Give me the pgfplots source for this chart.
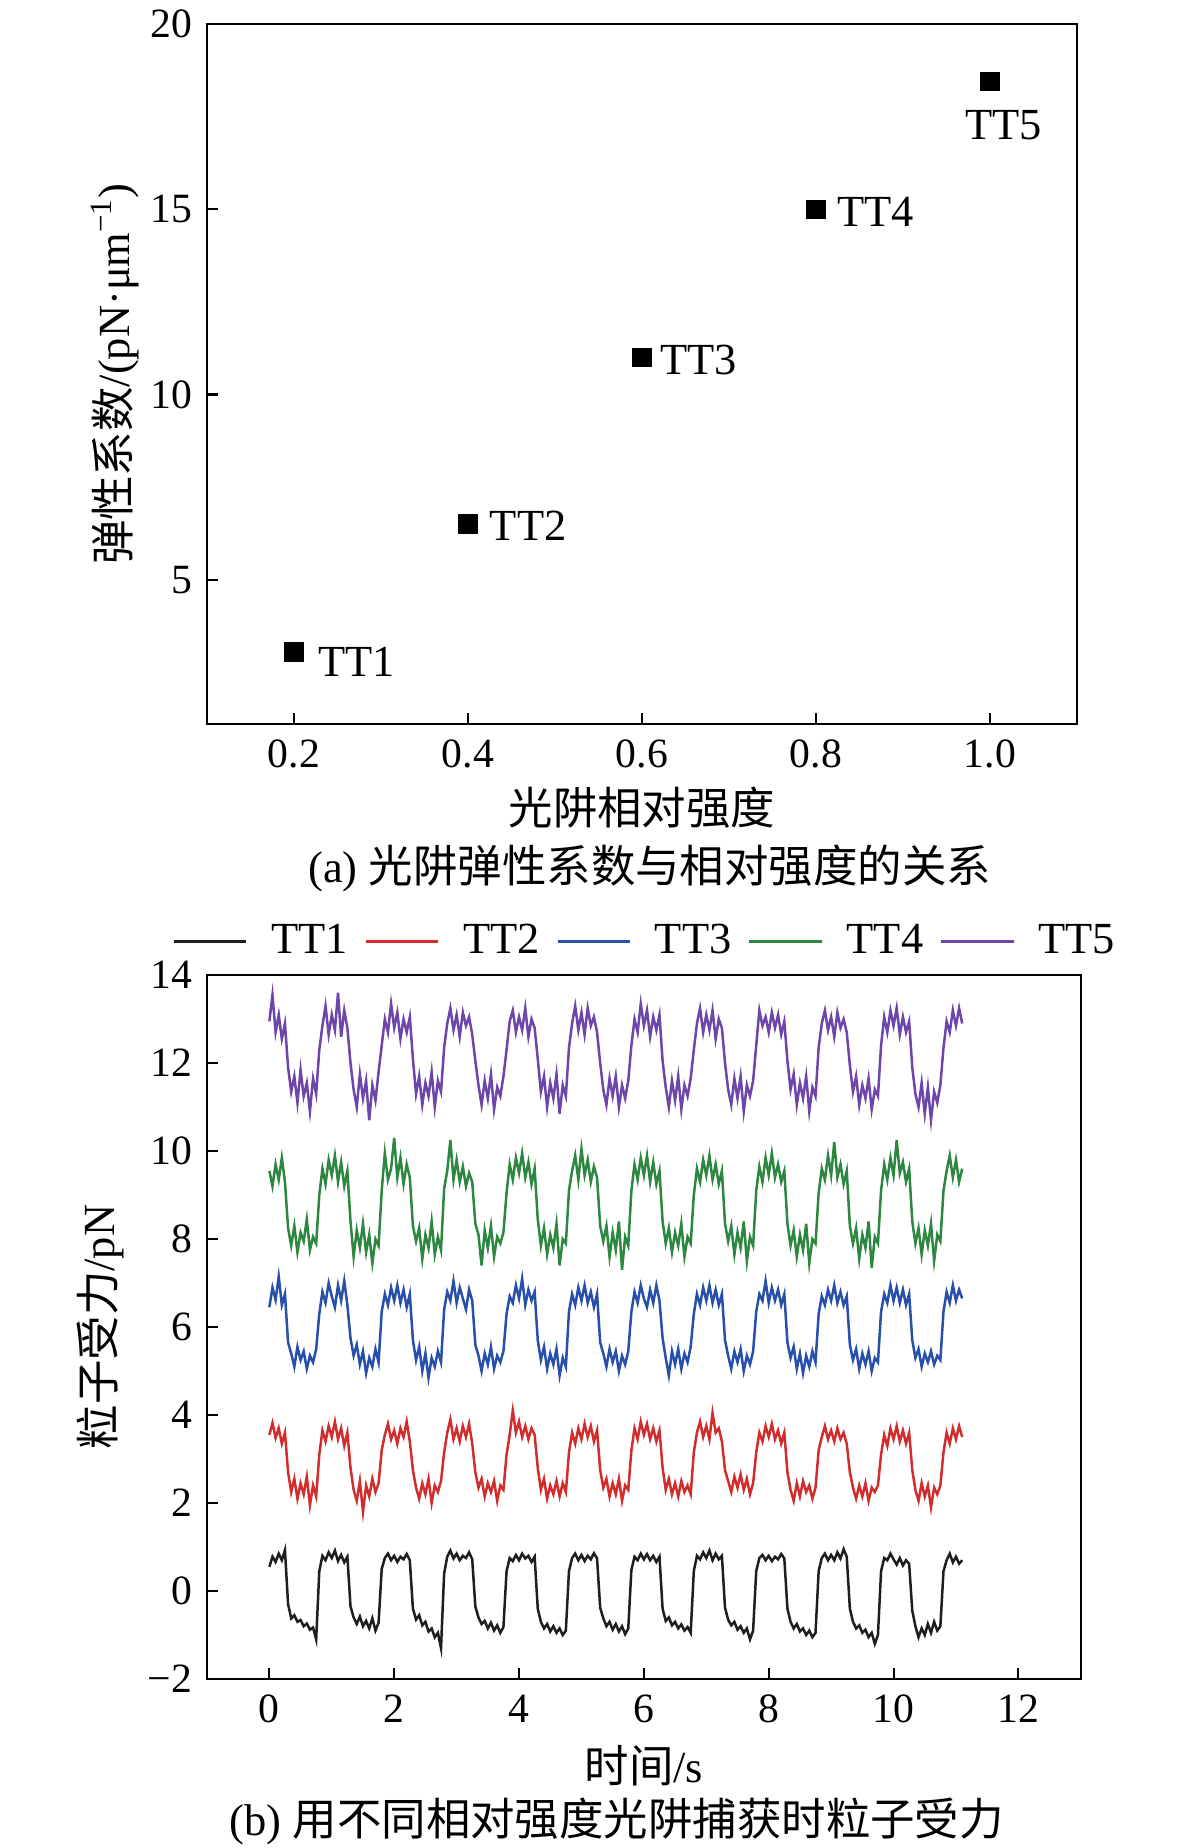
\documentclass[border=0pt]{standalone}
\usepackage{fontspec}
\setmainfont{Liberation Serif}
\newfontfamily\cjk{Noto Sans CJK SC}
\usepackage{pgfplots}
\pgfplotsset{compat=1.18}
\usepackage{pgfplotstable}

\definecolor{cA}{RGB}{30,30,30}
\definecolor{cB}{RGB}{210,45,45}
\definecolor{cC}{RGB}{40,80,170}
\definecolor{cD}{RGB}{45,135,65}
\definecolor{cE}{RGB}{110,70,170}

\pgfplotstableread{
x y1 y2 y3 y4 y5
0.00 0.55 3.55 6.45 9.55 12.95
0.05 0.78 3.82 6.90 9.20 13.55
0.10 0.66 3.48 6.62 9.70 12.70
0.15 0.85 3.70 7.15 9.35 13.10
0.20 0.70 3.35 6.50 9.85 12.55
0.25 0.93 3.60 6.75 9.30 12.90
0.30 -0.30 2.70 5.65 8.25 11.90
0.35 -0.62 2.25 5.40 7.85 11.35
0.40 -0.55 2.55 5.10 8.30 11.70
0.45 -0.70 2.10 5.55 7.70 11.10
0.50 -0.66 2.45 5.25 8.15 11.85
0.55 -0.80 2.20 5.45 7.95 11.25
0.60 -0.74 2.60 5.05 8.45 11.55
0.65 -0.88 1.95 5.35 7.75 10.90
0.70 -0.83 2.40 5.20 8.05 11.65
0.75 -1.10 2.15 5.50 7.90 11.30
0.80 0.45 3.10 6.30 9.00 12.30
0.85 0.80 3.65 6.80 9.60 12.85
0.90 0.70 3.40 6.55 9.25 13.30
0.95 0.88 3.75 7.00 9.80 12.65
1.00 0.75 3.50 6.70 9.45 13.10
1.05 0.92 3.85 6.45 9.90 12.75
1.10 0.68 3.45 6.95 9.30 13.60
1.15 0.82 3.70 6.60 9.75 12.60
1.20 0.65 3.30 7.05 9.20 13.20
1.25 0.78 3.60 6.50 9.55 12.80
1.30 -0.35 2.80 5.75 8.40 12.00
1.35 -0.60 2.30 5.35 7.60 11.40
1.40 -0.75 2.05 5.60 8.20 11.00
1.45 -0.58 2.50 5.15 7.80 11.75
1.50 -0.80 1.80 5.45 8.35 11.20
1.55 -0.68 2.40 4.95 7.70 11.60
1.60 -0.85 2.15 5.30 8.10 10.70
1.65 -0.62 2.55 5.10 7.45 11.50
1.70 -0.90 2.25 5.50 8.00 11.15
1.75 -0.72 2.45 5.20 7.85 11.80
1.80 0.50 3.20 6.35 9.10 12.40
1.85 0.75 3.55 6.75 9.95 13.00
1.90 0.85 3.80 6.50 9.35 12.70
1.95 0.70 3.45 6.90 9.60 13.35
2.00 0.80 3.65 6.60 10.30 12.80
2.05 0.66 3.35 6.95 9.40 13.15
2.10 0.78 3.70 6.55 9.85 12.55
2.15 0.72 3.50 6.85 9.25 13.00
2.20 0.84 3.85 6.45 9.70 12.70
2.25 0.70 3.40 6.75 9.40 13.05
2.30 -0.40 2.75 5.70 8.30 12.10
2.35 -0.65 2.35 5.25 7.95 11.30
2.40 -0.55 2.10 5.55 8.25 11.70
2.45 -0.78 2.45 5.00 7.55 11.05
2.50 -0.70 2.20 5.40 8.10 11.55
2.55 -0.92 2.55 4.85 7.80 11.25
2.60 -0.85 2.00 5.30 8.40 11.80
2.65 -1.05 2.40 5.10 7.65 11.00
2.70 -0.95 2.25 5.45 8.05 11.60
2.75 -1.30 2.50 5.20 7.75 11.35
2.80 0.40 3.15 6.40 9.15 12.35
2.85 0.78 3.60 6.80 9.55 12.90
2.90 0.92 3.90 6.60 10.25 13.25
2.95 0.74 3.45 7.05 9.35 12.75
3.00 0.85 3.70 6.55 9.80 13.10
3.05 0.70 3.40 6.90 9.30 12.60
3.10 0.80 3.75 6.65 9.65 13.15
3.15 0.75 3.50 6.40 9.20 12.85
3.20 0.88 3.80 6.85 9.50 13.05
3.25 0.72 3.35 6.60 9.30 12.65
3.30 -0.35 2.70 5.60 8.35 12.05
3.35 -0.60 2.35 5.35 8.10 11.50
3.40 -0.75 2.55 5.00 7.40 11.05
3.45 -0.68 2.15 5.40 8.20 11.60
3.50 -0.85 2.45 5.15 7.80 11.20
3.55 -0.72 2.25 5.55 8.30 11.75
3.60 -0.90 2.50 5.05 7.60 10.95
3.65 -0.78 2.05 5.35 8.05 11.45
3.70 -0.95 2.40 5.20 7.90 11.25
3.75 -0.82 2.30 5.45 8.15 11.70
3.80 0.45 3.10 6.30 9.05 12.30
3.85 0.75 3.55 6.70 9.70 12.95
3.90 0.68 4.10 6.55 9.35 13.20
3.95 0.82 3.60 6.95 9.85 12.70
4.00 0.70 3.85 6.65 9.50 13.05
4.05 0.85 3.50 7.10 9.95 12.75
4.10 0.74 3.75 6.50 9.40 13.25
4.15 0.80 3.45 6.85 9.75 12.60
4.20 0.66 3.70 6.60 9.25 13.00
4.25 0.78 3.55 6.80 9.60 12.80
4.30 -0.40 2.80 5.70 8.45 12.10
4.35 -0.70 2.30 5.25 7.85 11.35
4.40 -0.85 2.55 5.55 8.25 11.70
4.45 -0.75 2.10 5.05 7.65 11.00
4.50 -0.92 2.40 5.40 8.10 11.55
4.55 -0.80 2.20 5.15 7.80 11.20
4.60 -0.95 2.50 5.50 8.35 11.75
4.65 -0.85 2.15 4.90 7.40 10.85
4.70 -1.00 2.45 5.30 8.00 11.50
4.75 -0.90 2.25 5.10 7.90 11.25
4.80 0.45 3.15 6.35 9.10 12.35
4.85 0.75 3.60 6.75 9.55 12.90
4.90 0.85 3.35 6.50 9.90 13.30
4.95 0.70 3.70 6.90 9.35 12.75
5.00 0.82 3.45 6.60 10.05 13.15
5.05 0.68 3.80 6.95 9.45 12.65
5.10 0.80 3.50 6.55 9.80 13.25
5.15 0.72 3.75 6.80 9.30 12.85
5.20 0.86 3.40 6.45 9.65 13.05
5.25 0.74 3.65 6.75 9.40 12.70
5.30 -0.38 2.75 5.65 8.30 12.00
5.35 -0.62 2.35 5.40 7.95 11.40
5.40 -0.80 2.55 5.10 8.30 11.05
5.45 -0.70 2.15 5.50 7.60 11.65
5.50 -0.88 2.45 5.20 8.15 11.25
5.55 -0.75 2.20 5.45 7.75 11.70
5.60 -0.92 2.55 5.00 8.40 11.00
5.65 -0.80 2.05 5.35 7.30 11.50
5.70 -0.98 2.40 5.15 8.05 11.20
5.75 -0.85 2.30 5.45 7.85 11.60
5.80 0.48 3.20 6.35 9.10 12.40
5.85 0.78 3.70 6.80 9.70 13.00
5.90 0.70 3.45 6.55 9.35 12.70
5.95 0.85 3.85 6.95 9.85 13.35
6.00 0.72 3.55 6.65 9.45 12.85
6.05 0.84 3.80 6.45 9.90 13.20
6.10 0.70 3.45 6.85 9.30 12.60
6.15 0.80 3.70 6.55 9.75 13.05
6.20 0.66 3.40 6.95 9.25 12.75
6.25 0.78 3.65 6.60 9.55 13.10
6.30 -0.40 2.80 5.75 8.40 12.05
6.35 -0.68 2.30 5.30 7.90 11.45
6.40 -0.60 2.55 4.90 8.25 11.00
6.45 -0.78 2.20 5.45 7.70 11.60
6.50 -0.70 2.45 5.15 8.15 11.15
6.55 -0.85 2.15 5.50 7.85 11.70
6.60 -0.76 2.50 5.05 8.35 10.95
6.65 -0.90 2.25 5.40 7.60 11.50
6.70 -0.82 2.40 5.20 8.05 11.25
6.75 -0.95 2.20 5.55 7.90 11.65
6.80 0.45 3.15 6.30 9.00 12.30
6.85 0.80 3.60 6.75 9.60 12.90
6.90 0.72 3.85 6.50 9.30 13.25
6.95 0.88 3.50 6.90 9.80 12.70
7.00 0.75 3.75 6.60 9.45 13.10
7.05 0.92 3.45 6.95 9.90 12.75
7.10 0.70 4.05 6.55 9.35 13.20
7.15 0.85 3.60 6.85 9.70 12.55
7.20 0.72 3.70 6.50 9.25 13.00
7.25 0.80 3.40 6.75 9.55 12.80
7.30 -0.38 2.75 5.70 8.35 12.00
7.35 -0.65 2.50 5.35 7.95 11.40
7.40 -0.78 2.25 5.05 8.30 11.05
7.45 -0.70 2.60 5.45 7.65 11.65
7.50 -0.88 2.35 5.20 8.15 11.20
7.55 -0.80 2.65 5.50 7.80 11.70
7.60 -0.95 2.30 5.00 8.40 10.90
7.65 -0.85 2.55 5.35 7.50 11.50
7.70 -1.10 2.20 5.15 8.05 11.25
7.75 -0.90 2.45 5.45 7.85 11.60
7.80 0.45 3.15 6.35 9.10 12.40
7.85 0.75 3.60 6.75 9.65 13.20
7.90 0.82 3.40 6.60 9.30 12.85
7.95 0.70 3.75 7.05 9.85 13.05
8.00 0.80 3.50 6.55 9.45 12.70
8.05 0.68 3.80 6.90 9.95 13.15
8.10 0.78 3.45 6.60 9.40 12.80
8.15 0.72 3.65 6.85 9.70 13.10
8.20 0.84 3.35 6.50 9.30 12.65
8.25 0.74 3.60 6.75 9.55 12.95
8.30 -0.40 2.70 5.65 8.35 12.05
8.35 -0.70 2.30 5.30 7.85 11.40
8.40 -0.85 2.05 5.55 8.20 11.75
8.45 -0.75 2.45 5.05 7.60 11.05
8.50 -0.92 2.15 5.40 8.10 11.55
8.55 -0.85 2.50 4.95 7.75 11.20
8.60 -1.00 2.25 5.35 8.35 11.70
8.65 -0.90 2.40 5.10 7.45 10.90
8.70 -1.05 2.10 5.45 8.00 11.45
8.75 -0.95 2.35 5.20 7.90 11.25
8.80 0.45 3.20 6.30 9.05 12.35
8.85 0.75 3.50 6.70 9.60 12.90
8.90 0.85 3.75 6.50 9.35 13.20
8.95 0.70 3.45 6.85 9.90 12.75
9.00 0.82 3.65 6.60 9.45 13.05
9.05 0.70 3.40 6.95 10.20 12.60
9.10 0.88 3.70 6.55 9.40 13.15
9.15 0.74 3.45 6.80 9.70 12.80
9.20 0.95 3.60 6.50 9.25 13.00
9.25 0.78 3.35 6.70 9.55 12.70
9.30 -0.40 2.70 5.60 8.30 11.95
9.35 -0.70 2.35 5.25 7.90 11.35
9.40 -0.85 2.10 5.50 8.25 11.70
9.45 -0.78 2.40 5.05 7.55 11.05
9.50 -0.95 2.15 5.40 8.10 11.50
9.55 -0.88 2.45 5.15 7.80 11.20
9.60 -1.05 2.05 5.45 8.40 11.65
9.65 -0.95 2.35 5.00 7.35 10.95
9.70 -1.20 2.25 5.30 8.05 11.40
9.75 -1.00 2.40 5.20 7.90 11.25
9.80 0.45 3.10 6.35 9.10 12.40
9.85 0.75 3.55 6.75 9.70 13.05
9.90 0.70 3.30 6.55 9.35 12.70
9.95 0.85 3.70 6.95 9.85 13.20
10.00 0.72 3.45 6.60 9.45 12.85
10.05 0.60 3.75 6.90 10.25 13.25
10.10 0.75 3.40 6.55 9.50 12.65
10.15 0.58 3.65 6.85 9.75 13.05
10.20 0.70 3.35 6.50 9.30 12.70
10.25 0.62 3.60 6.75 9.60 12.95
10.30 -0.45 2.75 5.70 8.40 11.90
10.35 -0.80 2.30 5.30 7.90 11.30
10.40 -1.05 2.05 5.50 8.25 11.00
10.45 -0.85 2.45 5.10 7.65 11.55
10.50 -1.00 2.15 5.40 8.20 10.85
10.55 -0.75 2.40 5.20 7.85 11.45
10.60 -0.95 1.90 5.45 8.35 10.70
10.65 -0.70 2.35 5.15 7.50 11.35
10.70 -0.90 2.20 5.35 8.10 11.10
10.75 -0.80 2.40 5.25 7.95 11.50
10.80 0.45 3.15 6.35 9.10 12.35
10.85 0.70 3.60 6.80 9.55 12.95
10.90 0.85 3.35 6.55 9.90 12.70
10.95 0.65 3.70 6.95 9.40 13.20
11.00 0.78 3.45 6.60 9.80 12.85
11.05 0.62 3.75 6.85 9.30 13.25
11.10 0.70 3.50 6.65 9.60 12.90
}\forcedata

\pgfplotsset{
  common/.style={
    scale only axis,
    tick pos=left, tick align=inside, major tick length=4pt,
    axis line style={line width=0.75pt},
    every tick/.append style={line width=0.75pt, black},
    ticklabel style={font=\fontsize{15pt}{18pt}\selectfont},
    xticklabel style={yshift=-2.2pt},
    yticklabel style={xshift=-1.8pt},
    label style={font=\fontsize{16pt}{19pt}\selectfont},
    /pgf/number format/assume math mode=true,
  }
}

\begin{document}
\begin{tikzpicture}
\useasboundingbox (0,0) rectangle (425.2pt,665.3pt);
\begin{axis}[common,
  at={(74.5pt,404.6pt)}, anchor=south west,
  width=313.2pt, height=252pt,
  xmin=0.1, xmax=1.1, ymin=1.1, ymax=20,
  xtick={0.2,0.4,0.6,0.8,1.0}, xticklabels={0.2,0.4,0.6,0.8,1.0},
  ytick={5,10,15,20}, yticklabels={5,10,15,20},
  xlabel={\cjk 光阱相对强度},
  ylabel={{\cjk 弹性系数}/(pN·μm\textsuperscript{−1})},
  xlabel style={at={(axis description cs:0.5,-0.12)}, anchor=center},
  ylabel style={at={(axis description cs:-0.1057,0.5)}, anchor=center},
  clip=false,
]
\addplot[only marks, mark=square*, mark size=3.3pt, black, mark options={rounded corners=1pt}] coordinates {
  (0.2,3.05) (0.4,6.5) (0.6,11.0) (0.8,15.0) (1.0,18.45)};
\begin{scope}[every node/.style={font=\fontsize{16pt}{19pt}\selectfont, inner sep=0pt}]
\node[anchor=west] at (axis cs:0.2,3.05) [xshift=8.6pt, yshift=-3.6pt] {TT1};
\node[anchor=west] at (axis cs:0.4,6.5) [xshift=7.7pt, yshift=-0.7pt] {TT2};
\node[anchor=west] at (axis cs:0.6,11.0) [xshift=6.5pt, yshift=-1pt] {TT3};
\node[anchor=west] at (axis cs:0.8,15.0) [xshift=7.6pt, yshift=-1pt] {TT4};
\node[anchor=center] at (axis cs:1.0,18.45) [xshift=5pt, yshift=-15.8pt] {TT5};
\node[anchor=center] at (axis description cs:0.509,-0.2057) {(a) {\cjk 光阱弹性系数与相对强度的关系}};
\end{scope}
\end{axis}

\begin{axis}[common,
  at={(74.5pt,60.84pt)}, anchor=south west,
  width=314.6pt, height=253.4pt,
  xmin=-1, xmax=13, ymin=-2, ymax=14,
  xtick={0,2,4,6,8,10,12}, xticklabels={0,2,4,6,8,10,12},
  ytick={-2,0,2,4,6,8,10,12,14}, yticklabels={−2,0,2,4,6,8,10,12,14},
  xlabel={{\cjk 时间}/s},
  ylabel={{\cjk 粒子受力}/pN},
  xlabel style={at={(axis description cs:0.5,-0.1236)}, anchor=center},
  ylabel style={at={(axis description cs:-0.122,0.5)}, anchor=center},
  legend columns=5,
  legend image code/.code={\draw[#1, line width=1pt] (0pt,0pt) -- (26pt,0pt);},
  legend style={at={(axis description cs:0.5,1)}, anchor=center, yshift=12.2pt,
    draw=none, fill=none, inner sep=0pt,
    font=\fontsize{16pt}{19pt}\selectfont,
    nodes={inner sep=0pt},
    /tikz/every odd column/.append style={column sep=8.5pt},
    /tikz/every even column/.append style={column sep=6pt}},
  clip=false,
]
\addplot[cA, line width=0.9pt] table[x=x, y=y1] {\forcedata};
\addlegendentry{TT1}
\addplot[cB, line width=0.9pt] table[x=x, y=y2] {\forcedata};
\addlegendentry{TT2}
\addplot[cC, line width=0.9pt] table[x=x, y=y3] {\forcedata};
\addlegendentry{TT3}
\addplot[cD, line width=0.9pt] table[x=x, y=y4] {\forcedata};
\addlegendentry{TT4}
\addplot[cE, line width=0.9pt] table[x=x, y=y5] {\forcedata};
\addlegendentry{TT5}
\node[anchor=center, font=\fontsize{16pt}{19pt}\selectfont] at (axis description cs:0.469,-0.203) {(b) {\cjk 用不同相对强度光阱捕获时粒子受力}};
\end{axis}
\end{tikzpicture}
\end{document}
